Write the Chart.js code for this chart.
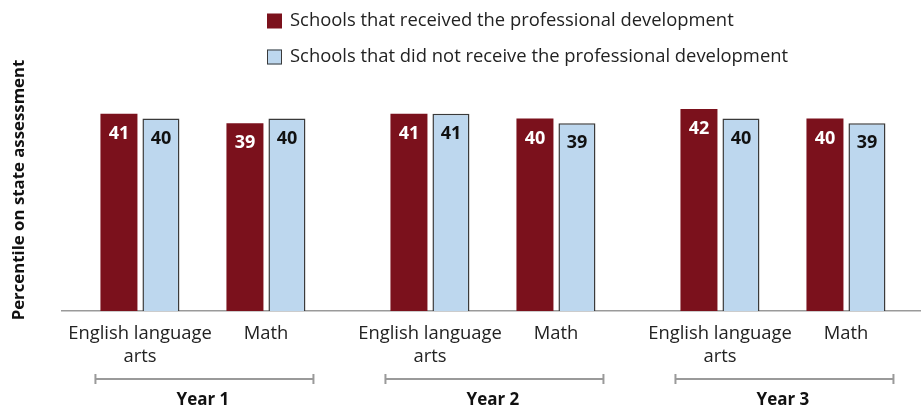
<!DOCTYPE html>
<html>
<head>
<meta charset="utf-8">
<script src="https://cdn.jsdelivr.net/npm/chart.js@4.4.1/dist/chart.umd.min.js"></script>
<style>
    body { margin: 0; background: #fff; }
    #wrap { width: 921px; height: 409px; position: relative; }
</style>
</head>
<body>
<div id="wrap"><canvas id="scoreChart"></canvas></div>
<script>
// 데이터
const years = ['Year 1', 'Year 2', 'Year 3'];
const subjects = [['English language', 'arts'], ['Math']];
const seriesNames = [
    'Schools that received the professional development',
    'Schools that did not receive the professional development'
];
const receivedELA = [41, 41, 42];
const receivedMath = [39, 40, 40];
const notReceivedELA = [40, 41, 40];
const notReceivedMath = [40, 39, 39];

const RED = '#7b111c';
const BLUE = '#bdd7ee';
const BLUE_BORDER = '#3a3a3a';
const GREY = '#9a9a9a';
const FONT = '"Open Sans", sans-serif';

function points(values) {
    return values.map((v, i) => ({ x: i + 1, y: v }));
}

const barStyle = {
    categoryPercentage: 0.7241,
    barPercentage: 0.881
};

// 범례 (두 줄, 왼쪽 정렬)
const legendPlugin = {
    id: 'stackedLegend',
    afterDraw(chart) {
        const c = chart.ctx;
        const items = [
            { text: seriesNames[0], fill: RED, stroke: null },
            { text: seriesNames[1], fill: BLUE, stroke: BLUE_BORDER }
        ];
        c.save();
        c.font = '18.4px ' + FONT;
        c.textBaseline = 'middle';
        items.forEach((item, i) => {
            const y = 21 + i * 36;
            c.fillStyle = item.fill;
            c.fillRect(267, y - 7.5, 15, 15);
            if (item.stroke) {
                c.strokeStyle = item.stroke;
                c.lineWidth = 1;
                c.strokeRect(267.5, y - 7, 14, 14);
            }
            c.fillStyle = '#222';
            c.fillText(item.text, 290, y);
        });
        c.restore();
    }
};

// 막대 위 값, 과목 라벨, 연도 괄호
const annotatePlugin = {
    id: 'annotate',
    afterDatasetsDraw(chart) {
        const c = chart.ctx;
        c.save();
        c.textAlign = 'center';
        c.textBaseline = 'middle';
        c.font = 'bold 18px ' + FONT;
        chart.data.datasets.forEach((ds, di) => {
            if (ds.spacer) return;
            const meta = chart.getDatasetMeta(di);
            meta.data.forEach((bar, i) => {
                c.fillStyle = ds.labelColor;
                c.fillText(ds.data[i].y, bar.x, bar.y + 20);
            });
        });

        const m = [0, 1, 3, 4].map(i => chart.getDatasetMeta(i).data);
        c.font = '18.4px ' + FONT;
        c.fillStyle = '#222';
        years.forEach((y, i) => {
            const centers = [
                (m[0][i].x + m[1][i].x) / 2,
                (m[2][i].x + m[3][i].x) / 2
            ];
            subjects.forEach((lines, s) => {
                lines.forEach((line, li) => {
                    c.fillText(line, centers[s], 334 + li * 23);
                });
            });

            const left = m[0][i].x - m[0][i].width / 2 - 5;
            const right = m[3][i].x + m[3][i].width / 2 + 8;
            const by = 379;
            c.strokeStyle = GREY;
            c.lineWidth = 2;
            c.beginPath();
            c.moveTo(left, by);
            c.lineTo(right, by);
            c.moveTo(left, by - 5);
            c.lineTo(left, by + 5);
            c.moveTo(right, by - 5);
            c.lineTo(right, by + 5);
            c.stroke();
        });
        c.restore();
    }
};

const ctx = document.getElementById('scoreChart');
new Chart(ctx, {
    type: 'bar',
    data: {
        datasets: [
            { data: points(receivedELA), backgroundColor: RED, borderWidth: 0, labelColor: '#fff', ...barStyle },
            { data: points(notReceivedELA), backgroundColor: BLUE, borderColor: BLUE_BORDER, borderWidth: 1.5, labelColor: '#111', ...barStyle },
            { data: points([null, null, null]), spacer: true, ...barStyle },
            { data: points(receivedMath), backgroundColor: RED, borderWidth: 0, labelColor: '#fff', ...barStyle },
            { data: points(notReceivedMath), backgroundColor: BLUE, borderColor: BLUE_BORDER, borderWidth: 1.5, labelColor: '#111', ...barStyle }
        ]
    },
    options: {
        responsive: true,
        maintainAspectRatio: false,
        animation: false,
        layout: {
            padding: { top: 69, left: 5, right: 0, bottom: 0 }
        },
        plugins: {
            legend: { display: false },
            tooltip: { enabled: false }
        },
        scales: {
            x: {
                type: 'linear',
                offset: false,
                min: 0.514,
                max: 3.476,
                grid: { display: false, drawTicks: false },
                border: { display: true, color: GREY, width: 1.5 },
                afterBuildTicks: function(scale) {
                    scale.ticks = years.map((_, i) => ({ value: i + 1 }));
                },
                afterFit: function(scale) {
                    scale.height = 98;
                },
                ticks: {
                    padding: 79,
                    color: '#111',
                    font: { family: FONT, size: 17, weight: 'bold' },
                    callback: function(value) {
                        return years[value - 1];
                    }
                }
            },
            y: {
                min: 0,
                max: 50.3,
                grid: { display: false, drawTicks: false },
                border: { display: false },
                ticks: { display: false },
                afterFit: function(scale) {
                    scale.width = 57;
                },
                title: {
                    display: true,
                    text: 'Percentile on state assessment',
                    color: '#111',
                    font: { family: FONT, size: 16.8, weight: 'bold' }
                }
            }
        }
    },
    plugins: [legendPlugin, annotatePlugin]
});
</script>
</body>
</html>
